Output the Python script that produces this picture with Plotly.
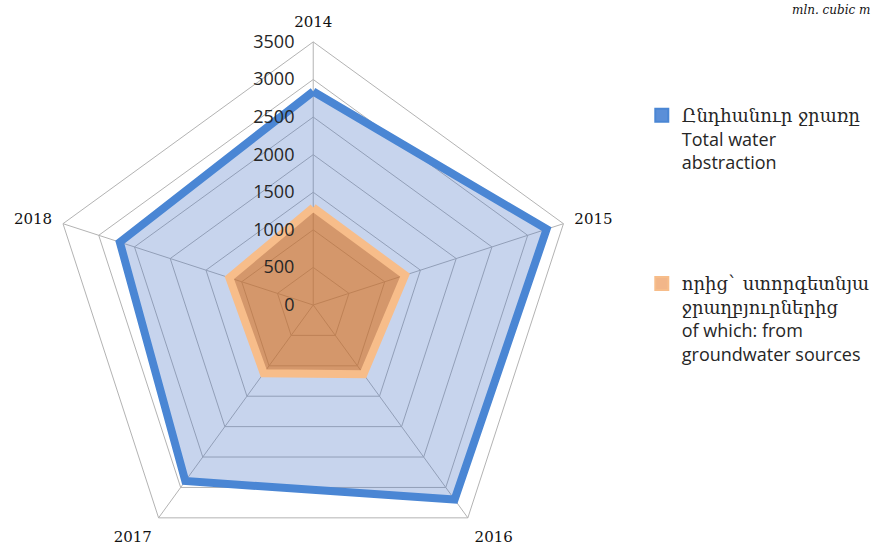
import plotly.graph_objects as go

years = ["2014", "2015", "2016", "2017", "2018"]
total_abstraction = [2840, 3265, 3200, 2895, 2705]
groundwater = [1297, 1285, 1137, 1121, 1173]
radial_ticks = [0, 500, 1000, 1500, 2000, 2500, 3000, 3500]

ARM = "<span style=\"font-family:'DejaVu Serif'\">{}</span>"
name_total = ARM.format("Ընդհանուր ջրառը") + "<br>Total water<br>abstraction"
name_ground = ARM.format("որից` ստորգետնյա") + "<br>" + ARM.format("ջրաղբյուրներից") + "<br>of which: from<br>groundwater sources"

W, H = 875, 576
cx, cy, R = 314.3, 305.0, 264.0

blue_line, blue_fill = "#4a86d4", "rgba(68,114,196,0.30)"
orange_line, orange_fill = "#f7bd8a", "rgba(220,110,20,0.60)"

fig = go.Figure()
fig.add_trace(go.Scatterpolar(
    r=total_abstraction + total_abstraction[:1],
    theta=years + years[:1],
    mode="lines", fill="toself", fillcolor=blue_fill,
    line=dict(color=blue_line, width=8),
    showlegend=False, hoverinfo="r+theta",
))
fig.add_trace(go.Scatterpolar(
    r=groundwater + groundwater[:1],
    theta=years + years[:1],
    mode="lines", fill="toself", fillcolor=orange_fill,
    line=dict(color=orange_line, width=8),
    showlegend=False, hoverinfo="r+theta",
))
# legend entries (square swatches like the reference)
fig.add_trace(go.Scatterpolar(
    r=[None], theta=[None], mode="markers", name=name_total, legendgroup="a",
    marker=dict(symbol="square", size=13, color="#5b8fd8", line=dict(color=blue_line, width=2)),
))
fig.add_trace(go.Scatterpolar(
    r=[None], theta=[None], mode="markers", name=name_ground, legendgroup="b",
    marker=dict(symbol="square", size=13, color="#f2b689", line=dict(color=orange_line, width=2)),
))

fig.update_layout(
    width=W, height=H,
    margin=dict(l=0, r=0, t=0, b=0),
    paper_bgcolor="white", plot_bgcolor="white",
    showlegend=True,
    legend=dict(x=644 / W, y=1 - 97 / H, xanchor="left", yanchor="top",
                font=dict(family="Open Sans", size=18, color="#262626"),
                valign="top",
                tracegroupgap=95, itemwidth=30, bgcolor="rgba(0,0,0,0)"),
    polar=dict(
        domain=dict(x=[(cx - R) / W, (cx + R) / W],
                    y=[(H - cy - R) / H, (H - cy + R) / H]),
        bgcolor="white",
        gridshape="linear",
        radialaxis=dict(range=[0, 3500], tickvals=radial_ticks,
                        angle=90, tickangle=90, side="counterclockwise",
                        showline=False, ticks="outside", ticklen=12,
                        tickcolor="rgba(0,0,0,0)",
                        gridcolor="#b3b3b3", gridwidth=1,
                        tickfont=dict(family="Open Sans", size=18, color="#262626")),
        angularaxis=dict(direction="clockwise", rotation=90,
                         showline=True, linecolor="#b3b3b3", linewidth=1,
                         gridcolor="#b3b3b3", gridwidth=1,
                         ticks="outside", ticklen=8, tickcolor="rgba(0,0,0,0)",
                         tickfont=dict(family="DejaVu Serif", size=15, color="#111111")),
    ),
    annotations=[dict(text="<i>mln. cubic m</i>", x=1, y=1 - 10 / H,
                      xref="paper", yref="paper", xanchor="right", yanchor="middle",
                      showarrow=False,
                      font=dict(family="DejaVu Serif", size=12, color="#111111"))],
)

fig.write_html("out.html", config={"displayModeBar": False},
               post_script="document.body.style.overflow='hidden';document.body.style.margin='0';")
